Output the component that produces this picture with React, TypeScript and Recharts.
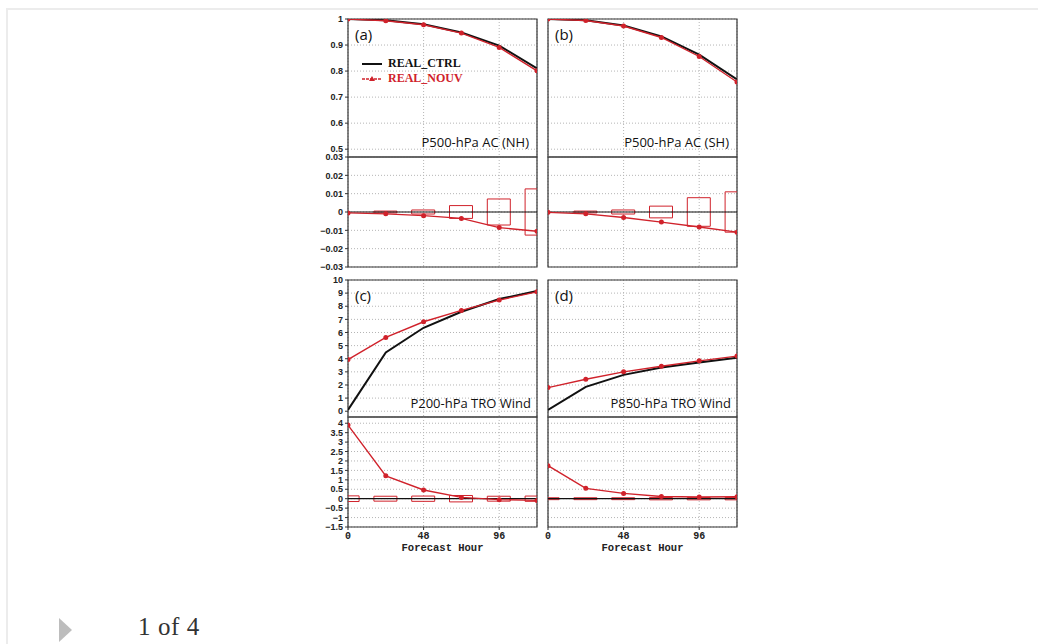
import React from 'react';
import {
    ComposedChart, Line, Bar, XAxis, YAxis, CartesianGrid,
    ReferenceLine, ReferenceArea
} from 'recharts';

// forecast hours
const hours = [0, 24, 48, 72, 96, 120];

// (a) P500 AC NH
const nhCtrl = [1, 0.995, 0.98, 0.948, 0.898, 0.81];
const nhNouv = [1, 0.993, 0.978, 0.946, 0.891, 0.801];
const nhDiff = [-0.0005, -0.001, -0.002, -0.0035, -0.0085, -0.0105];
const nhSpread = [0, 0.0005, 0.0011, 0.0035, 0.0071, 0.0126];

// (b) P500 AC SH
const shCtrl = [1, 0.995, 0.975, 0.933, 0.863, 0.768];
const shNouv = [1, 0.994, 0.973, 0.929, 0.856, 0.758];
const shDiff = [-0.0002, -0.001, -0.003, -0.0055, -0.0082, -0.011];
const shSpread = [0, 0.0005, 0.0011, 0.0032, 0.0078, 0.011];

// (c) P200 TRO wind
const p200Ctrl = [0.1, 4.48, 6.36, 7.58, 8.55, 9.16];
const p200Nouv = [3.94, 5.62, 6.82, 7.68, 8.47, 9.1];
const p200Diff = [3.9, 1.21, 0.46, 0.07, -0.05, -0.09];
const p200Spread = [0.15, 0.13, 0.14, 0.17, 0.13, 0.14];

// (d) P850 TRO wind
const p850Ctrl = [0.1, 1.86, 2.77, 3.33, 3.72, 4.07];
const p850Nouv = [1.8, 2.44, 3.0, 3.43, 3.84, 4.2];
const p850Diff = [1.75, 0.55, 0.28, 0.12, 0.09, 0.1];
const p850Spread = [0.05, 0.05, 0.05, 0.06, 0.06, 0.06];

const acTicks = [0.5, 0.6, 0.7, 0.8, 0.9, 1];
const acDiffTicks = [-0.03, -0.02, -0.01, 0, 0.01, 0.02, 0.03];
const windTicks = [0, 1, 2, 3, 4, 5, 6, 7, 8, 9, 10];
const windDiffTicks = [-1.5, -1, -0.5, 0, 0.5, 1, 1.5, 2, 2.5, 3, 3.5, 4];
const hourTicks = [0, 48, 96];

const RED = '#d0222b';
const fmt = (v: number) => String(v).replace('-', '\u2212');

const mainRows = (ctrl: number[], nouv: number[]) =>
    hours.map((h, i) => ({ h, ctrl: ctrl[i], nouv: nouv[i] }));
const diffRows = (diff: number[], spread: number[]) =>
    hours.map((h, i) => ({ h, diff: diff[i], box: [-spread[i], spread[i]] }));

interface PanelProps {
    left: number;
    top: number;
    plotH: number;
    leftCol: boolean;
    diff?: boolean;
    showX?: boolean;
    domain: [number, number];
    ticks: number[];
    data: any[];
}

function Panel({ left, top, plotH, leftCol, diff, showX, domain, ticks, data }: PanelProps) {
    const yW = leftCol ? 52 : 0;
    const mLeft = leftCol ? 0 : 8;
    const xH = showX ? 26 : 0;
    const mTop = 8;
    const mBot = showX ? 0 : 8;
    const width = mLeft + yW + 189 + 6;
    const height = mTop + plotH + mBot + xH;
    return (
        <div style={{ position: 'absolute', left: left - yW - mLeft, top: top - mTop }}>
            <ComposedChart width={width} height={height} data={data}
                margin={{ top: mTop, right: 6, bottom: mBot, left: mLeft }}>
                <CartesianGrid stroke="#b5b5b5" strokeDasharray="1 2" />
                <XAxis dataKey="h" type="number" domain={[0, 120]} ticks={hourTicks}
                    allowDataOverflow hide={!showX} height={xH} tickSize={3} interval={0}
                    axisLine={false} stroke="#333"
                    tick={{ fill: '#222', fontSize: 10, fontFamily: 'Liberation Mono', fontWeight: 700 }}
                    label={{ value: 'Forecast Hour', position: 'insideBottom', offset: 2,
                        style: { fill: '#222', fontSize: 10.5, fontFamily: 'Liberation Mono', fontWeight: 700 } }} />
                <YAxis type="number" domain={domain} ticks={ticks} allowDataOverflow
                    hide={!leftCol} width={yW} tickSize={3} axisLine={false} stroke="#333"
                    interval={0} tickFormatter={fmt}
                    tick={{ fill: '#222', fontSize: 9, fontFamily: 'Liberation Sans', fontWeight: 700 }} />
                {diff && (
                    <Bar dataKey="box" barSize={23} fill="none"
                        stroke={RED} strokeWidth={1} isAnimationActive={false} />
                )}
                {diff && <ReferenceLine y={0} stroke="#111" strokeWidth={1.2} />}
                {!diff && (
                    <Line dataKey="ctrl" stroke="#111" strokeWidth={2} dot={false}
                        isAnimationActive={false} />
                )}
                <Line dataKey={diff ? 'diff' : 'nouv'} stroke={RED} strokeWidth={1.4}
                    dot={{ r: 1.8, fill: RED, stroke: RED }} isAnimationActive={false} />
                <ReferenceArea x1={0} x2={120} y1={domain[0]} y2={domain[1]}
                    fill="none" stroke="#333" strokeWidth={1.2} />
            </ComposedChart>
        </div>
    );
}

const tag = (text: string, left: number, top: number) => (
    <div style={{ position: 'absolute', left, top, fontFamily: 'Open Sans', fontSize: 15, color: '#111', lineHeight: '20px' }}>
        {text}
    </div>
);

const title = (text: string, right: number, top: number) => (
    <div style={{ position: 'absolute', left: right - 170, width: 170, top, textAlign: 'right',
        fontFamily: 'Open Sans', fontSize: 13, color: '#111', lineHeight: '16px' }}>
        {text}
    </div>
);

export default function App() {
    return (
        <div style={{ position: 'relative', width: 1038, height: 644, background: '#fff', overflow: 'hidden' }}>
            <style>{'body{margin:0}'}</style>
            <div style={{ position: 'absolute', left: 6, top: 8, width: 1032, height: 636,
                borderTop: '2px solid #ececec', borderLeft: '2px solid #ececec' }} />

            <Panel left={348} top={19} plotH={138} leftCol domain={[0.47, 1]} ticks={acTicks}
                data={mainRows(nhCtrl, nhNouv)} />
            <Panel left={348} top={157} plotH={110} leftCol diff domain={[-0.03, 0.03]} ticks={acDiffTicks}
                data={diffRows(nhDiff, nhSpread)} />
            <Panel left={548} top={19} plotH={138} leftCol={false} domain={[0.47, 1]} ticks={acTicks}
                data={mainRows(shCtrl, shNouv)} />
            <Panel left={548} top={157} plotH={110} leftCol={false} diff domain={[-0.03, 0.03]} ticks={acDiffTicks}
                data={diffRows(shDiff, shSpread)} />

            <Panel left={348} top={280} plotH={137} leftCol domain={[-0.44, 10]} ticks={windTicks}
                data={mainRows(p200Ctrl, p200Nouv)} />
            <Panel left={348} top={417} plotH={110} leftCol diff showX domain={[-1.5, 4.33]} ticks={windDiffTicks}
                data={diffRows(p200Diff, p200Spread)} />
            <Panel left={548} top={280} plotH={137} leftCol={false} domain={[-0.44, 10]} ticks={windTicks}
                data={mainRows(p850Ctrl, p850Nouv)} />
            <Panel left={548} top={417} plotH={110} leftCol={false} diff showX domain={[-1.5, 4.33]} ticks={windDiffTicks}
                data={diffRows(p850Diff, p850Spread)} />

            {tag('(a)', 355, 24)}
            {tag('(b)', 555, 24)}
            {tag('(c)', 355, 285)}
            {tag('(d)', 555, 285)}

            {title('P500-hPa AC (NH)', 529, 134)}
            {title('P500-hPa AC (SH)', 729, 134)}
            {title('P200-hPa TRO Wind', 531, 395)}
            {title('P850-hPa TRO Wind', 731, 395)}

            <div style={{ position: 'absolute', left: 360, top: 56, fontFamily: 'Liberation Serif',
                fontWeight: 700, fontSize: 12, lineHeight: '15px' }}>
                <div style={{ display: 'flex', alignItems: 'center', color: '#111' }}>
                    <svg width={24} height={10}><line x1={2} y1={5} x2={22} y2={5} stroke="#111" strokeWidth={2} /></svg>
                    <span style={{ marginLeft: 4 }}>REAL_CTRL</span>
                </div>
                <div style={{ display: 'flex', alignItems: 'center', color: RED }}>
                    <svg width={24} height={10}>
                        <line x1={2} y1={5} x2={22} y2={5} stroke={RED} strokeWidth={1.4} strokeDasharray="3 1" />
                        <polygon points="12,2 15,7 9,7" fill={RED} />
                    </svg>
                    <span style={{ marginLeft: 4 }}>REAL_NOUV</span>
                </div>
            </div>

            <svg style={{ position: 'absolute', left: 59, top: 618 }} width={14} height={24}>
                <polygon points="0,0 13,12 0,24" fill="#bdbdbd" />
            </svg>
            <div style={{ position: 'absolute', left: 138, top: 613, fontFamily: 'Liberation Serif',
                fontSize: 25, letterSpacing: 0.6, color: '#333', lineHeight: '28px' }}>
                1 of 4
            </div>
        </div>
    );
}
